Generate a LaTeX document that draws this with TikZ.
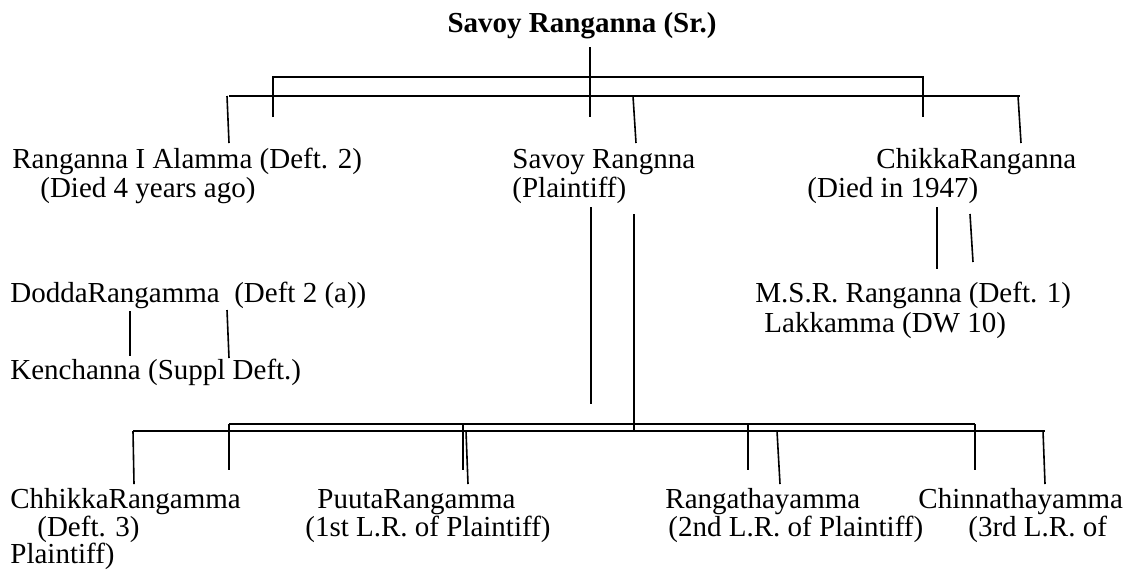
\documentclass[tikz,border=0pt]{standalone}
\usepackage{fontspec}
\setmainfont{Liberation Serif}
\begin{document}
\begin{tikzpicture}[x=0.5pt,y=-0.5pt,
  txt/.style={anchor=base west,inner sep=0pt,font=\fontsize{14.5}{17}\selectfont},
  ttl/.style={anchor=base,inner sep=0pt,font=\fontsize{14.5}{17}\selectfont\bfseries},
  ln/.style={line width=0.8pt},
  bus/.style={line width=1.1pt}]
\useasboundingbox (0,0) rectangle (1128,575);

% title
\node[ttl] (root) at (582,32) {Savoy Ranganna (Sr.)};

% first generation texts
\node[txt] (ra) at (12,168) {Ranganna I Alamma (Deft. 2)};
\node[txt] (rb) at (40,197) {(Died 4 years ago)};
\node[txt] (sa) at (512,168) {Savoy Rangnna};
\node[txt] (sb) at (512,197) {(Plaintiff)};
\node[txt] (ca) at (876,168) {ChikkaRanganna};
\node[txt] (cb) at (807,197) {(Died in 1947)};

% second generation texts
\node[txt] (da) at (10,302) {DoddaRangamma\ \ (Deft 2 (a))};
\node[txt] (ka) at (10,379) {Kenchanna (Suppl Deft.)};
\node[txt] (ma) at (755,302) {M.S.R. Ranganna (Deft. 1)};
\node[txt] (la) at (764,332) {Lakkamma (DW 10)};

% children of plaintiff
\node[txt] (c1a) at (10,508) {ChhikkaRangamma};
\node[txt] (c1b) at (37,536) {(Deft. 3)};
\node[txt] (c1c) at (10,563) {Plaintiff)};
\node[txt] (c2a) at (317,508) {PuutaRangamma};
\node[txt] (c2b) at (305,536) {(1st L.R. of Plaintiff)};
\node[txt] (c3a) at (665,508) {Rangathayamma};
\node[txt] (c3b) at (668,536) {(2nd L.R. of Plaintiff)};
\node[txt] (c4a) at (918,508) {Chinnathayamma};
\node[txt] (c4b) at (968,536) {(3rd L.R. of};

% ---- top connectors
\coordinate (t0) at (590,47);
\coordinate (t1) at (590,117);
\coordinate (ub1) at (273,77);
\coordinate (ub2) at (923,77);
\coordinate (ub1d) at (273,117);
\coordinate (ub2d) at (923,117);
\coordinate (lb1) at (229,96);
\coordinate (lb2) at (1020,96);
\coordinate (d1t) at (227,96);
\coordinate (d1b) at (229,143);
\coordinate (d2t) at (633,96);
\coordinate (d2b) at (636,143);
\coordinate (d3t) at (1018,96);
\coordinate (d3b) at (1021,143);
\draw[ln] (t0) -- (t1);
\draw[bus] (ub1d) -- (ub1) -- (ub2) -- (ub2d);
\draw[bus] (lb1) -- (lb2);
\draw[ln] (d1t) -- (d1b);
\draw[ln] (d2t) -- (d2b);
\draw[ln] (d3t) -- (d3b);

% ---- middle connectors
\coordinate (p1t) at (591,207);
\coordinate (p1b) at (591,404);
\coordinate (p2t) at (634,214);
\coordinate (p2b) at (634,431);
\draw[ln] (p1t) -- (p1b);
\draw[ln] (p2t) -- (p2b);
\coordinate (m1t) at (937,207);
\coordinate (m1b) at (937,269);
\coordinate (m2t) at (970,214);
\coordinate (m2b) at (973,262);
\draw[ln] (m1t) -- (m1b);
\draw[ln] (m2t) -- (m2b);
\coordinate (k1t) at (130,311);
\coordinate (k1b) at (130,356);
\coordinate (k2t) at (227,310);
\coordinate (k2b) at (229,358);
\draw[ln] (k1t) -- (k1b);
\draw[ln] (k2t) -- (k2b);

% ---- bottom connectors
\coordinate (bu1) at (229,424);
\coordinate (bu2) at (975,424);
\coordinate (bl1) at (133,431);
\coordinate (bl2) at (1045,431);
\draw[bus] (bu1) -- (bu2);
\draw[bus] (bl1) -- (bl2);
\foreach \x/\n in {229/a,463/b,748/c,975/d}{
  \coordinate (u\n t) at (\x,424);
  \coordinate (u\n b) at (\x,470);
  \draw[ln] (u\n t) -- (u\n b);
}
\foreach \x/\y/\n in {133/134/a,466/468/b,777/780/c,1043/1045/d}{
  \coordinate (l\n t) at (\x,431);
  \coordinate (l\n b) at (\y,484);
  \draw[ln] (l\n t) -- (l\n b);
}
\end{tikzpicture}
\end{document}
